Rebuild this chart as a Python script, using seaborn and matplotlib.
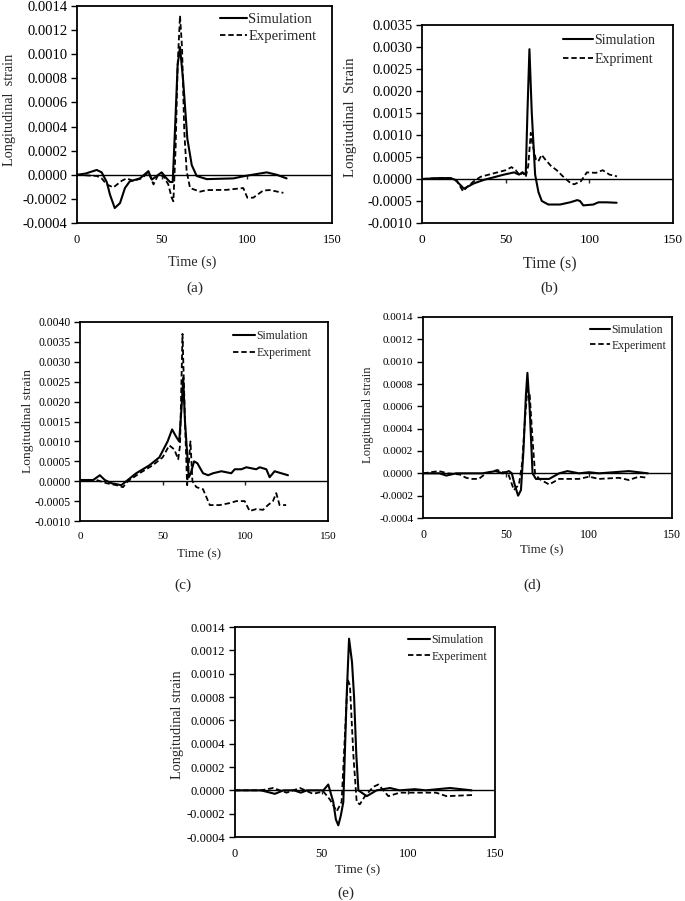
import numpy as np
import pandas as pd
import matplotlib
matplotlib.use("Agg")
import matplotlib.pyplot as plt
from matplotlib.ticker import FuncFormatter, MultipleLocator
import seaborn as sns

# ---------------- data ----------------
# (a)
a_sim_t = [0, 5, 11.6, 14.5, 17.5, 19.4, 22.2, 25.3, 28.2, 31, 37, 42, 44, 49.8, 52.7, 54.7, 56.3, 57.6, 59.2, 60.6, 62.5, 64.9, 67.5, 70.4, 76.3, 92, 98.8, 111.6, 117.5, 123.3]
a_sim_y = [0, 0.00001, 0.00004, 0.00002, -0.00006, -0.000165, -0.000276, -0.000235, -0.00011, -0.000055, -0.00003, 0.00003, -0.00004, 0.00002, -0.00003, -0.00006, -0.00006, 0.00036, 0.00091, 0.00106, 0.00077, 0.0003, 0.00008, -0.00001, -0.000036, -0.00003, -0.00001, 0.00002, 0.0, -0.00003]
a_exp_t = [0, 11.6, 14.5, 17.5, 21.4, 26.3, 29.2, 33, 38, 42, 45, 47.8, 50.8, 53.7, 55.7, 56.7, 58, 59.2, 60.6, 61.8, 63.1, 64.5, 66.5, 69.4, 72.4, 76.3, 88, 97.8, 100.2, 103.7, 109.6, 113.5, 121.4]
a_exp_y = [0, -0.00001, -0.00003, -0.00008, -0.000105, -0.00005, -0.00003, -0.00005, -0.00003, 0.00002, -0.00008, 0.0, -0.00001, -0.00008, -0.00019, -0.00022, 0.00022, 0.00091, 0.00132, 0.00105, 0.00036, 0.00003, -0.00011, -0.000125, -0.00014, -0.000127, -0.000125, -0.00011, -0.00019, -0.00019, -0.00013, -0.000127, -0.00015]

# (b)
b_sim_t = [0, 10, 17, 20, 25, 27, 31, 37, 43, 49, 55, 58, 60, 62, 63, 64.2, 65.6, 67.6, 69.6, 71.6, 75.5, 82.5, 88.5, 92.8, 94.4, 96.4, 102.4, 105.4, 110.3, 116.3]
b_sim_y = [0, 0.00002, 0.00002, -0.00002, -0.00022, -0.00018, -0.0001, -0.00002, 0.00004, 0.0001, 0.00015, 0.0001, 0.00015, 0.0001, 0.0015, 0.00295, 0.0015, 0.0001, -0.0003, -0.0005, -0.00058, -0.00058, -0.00053, -0.00048, -0.0005, -0.0006, -0.00058, -0.00053, -0.00053, -0.00054]
b_exp_t = [0, 10, 17, 21, 24.5, 27, 31, 35, 40, 45, 50, 53.5, 56, 58.5, 60, 62, 63.5, 65, 66, 68, 69.5, 71.5, 73.5, 77, 80.5, 85, 89, 91, 95, 98.5, 104, 108, 112, 116.5]
b_exp_y = [0, 0.00002, 0.00002, -0.00005, -0.00028, -0.00018, -0.00005, 0.00005, 0.0001, 0.00015, 0.0002, 0.00027, 0.0002, 0.00008, 0.00015, 0.00005, 0.0003, 0.00105, 0.0008, 0.00045, 0.0004, 0.00055, 0.00045, 0.0003, 0.0002, 0.00003, -0.0001, -0.00012, -0.00005, 0.00015, 0.00014, 0.0002, 0.0001, 0.00006]

# (c)
c_sim_t = [0, 8, 12, 15, 19, 25, 28, 34, 42, 48, 53, 55.7, 58.4, 60, 61.5, 62.4, 63.5, 65.8, 67, 69, 71, 74.4, 77.5, 80.5, 85.5, 91.5, 93.6, 97.6, 100.6, 106.6, 108.7, 112.7, 114.7, 117.7, 121.7, 125.8]
c_sim_y = [0.00003, 0.00003, 0.00015, 0.00003, -0.00005, -0.0001, 0.0, 0.0002, 0.0004, 0.0006, 0.001, 0.0013, 0.0011, 0.001, 0.0019, 0.0026, 0.0015, 0.0001, 0.0002, 0.0005, 0.00045, 0.0002, 0.00015, 0.0002, 0.00025, 0.0002, 0.0003, 0.0003, 0.00035, 0.0003, 0.00035, 0.0003, 0.0001, 0.00025, 0.0002, 0.00015]
c_exp_t = [0, 10, 16, 22, 26, 29, 36, 44, 50, 54, 57, 59.4, 60.5, 62, 63.5, 64.8, 66.8, 68, 70.4, 74.4, 78.5, 84.5, 90.5, 94.6, 99.6, 102.6, 106.6, 110.7, 113.7, 116.7, 118.7, 120.7, 124.7]
c_exp_y = [0.00002, 0.00003, -0.00005, -0.0001, -0.00015, 0.0, 0.0002, 0.0004, 0.0006, 0.0009, 0.0008, 0.00055, 0.0009, 0.0037, 0.0015, -0.0001, 0.001, 0.0, -0.00015, -0.0002, -0.0006, -0.0006, -0.00055, -0.0005, -0.0005, -0.00075, -0.0007, -0.00072, -0.0006, -0.0005, -0.0003, -0.0006, -0.0006]

# (d)
d_sim_t = [0, 10, 14, 20, 25, 35.7, 43.8, 48, 51.8, 53.5, 55.2, 57.3, 59, 60.5, 62, 62.9, 64.2, 66, 68, 72, 76, 82, 87, 94, 100, 106, 115, 124, 135.5]
d_sim_y = [0, 0, -0.00002, 0, 0, 0, 0.00002, 0, 0.00002, 0, -0.0001, -0.0002, -0.00015, 0.0002, 0.0007, 0.0009, 0.0006, 0.0, -0.00005, -0.00005, -0.00005, 0, 0.00002, 0, 0.00001, 0, 0.00001, 0.00002, 0]
d_exp_t = [0, 9.5, 15, 22, 26, 29.6, 33.6, 38, 44.8, 48, 51, 54.8, 57.8, 59.8, 61.5, 62.9, 64.3, 66, 67.5, 70, 76, 82, 94, 100, 106, 118, 124, 130, 135.5]
d_exp_y = [0, 0.00002, 0, -0.00001, -0.00004, -0.00005, -0.00005, 0, 0.00003, 0.00001, 0.00001, -0.00015, -0.0001, 0.0001, 0.0005, 0.00075, 0.0007, 0.0003, 0, -0.00005, -0.0001, -0.00005, -0.00005, -0.00003, -0.00005, -0.00004, -0.00006, -0.00003, -0.00004]

# (e)
e_sim_t = [0, 15, 23, 28, 34, 38, 41.5, 51, 53.8, 56.7, 58.2, 59.6, 61, 62.5, 64.4, 65.8, 67.5, 68.7, 70, 71.2, 76, 81.7, 89.4, 95, 103.8, 110, 124, 136.5]
e_sim_y = [0, 0, -0.00003, 0, 0, -0.00002, 0, 0, 0.00005, -0.0001, -0.00025, -0.0003, -0.00022, -0.0001, 0.0008, 0.0013, 0.0011, 0.0008, 0.0003, 0, -0.00005, 0, 0.00002, 0, 0.00001, 0, 0.00002, 0]
e_exp_t = [0, 15, 22, 29.8, 37.5, 45, 51, 54.8, 58.7, 61.5, 63.5, 65, 66.3, 68.3, 70.2, 72, 75, 79.8, 82.7, 85.6, 88.5, 95, 110, 116, 122, 137.5]
e_exp_y = [0, 0, 0.00002, -0.00002, 0.00002, -0.00003, -0.00001, -0.00008, -0.00018, -0.0001, 0.0005, 0.00095, 0.0009, 0.0003, -0.0001, -0.00012, -0.00005, 0.00003, 0.00005, 0, -0.00005, -0.00002, -0.00002, -0.00002, -0.00005, -0.00004]

x_ticks = [0, 50, 100, 150]
panel_letters = ["(a)", "(b)", "(c)", "(d)", "(e)"]
ylabels = ["Longitudinal  strain", "Longitudinal  Strain", "Longitudinal strain", "Longitudinal strain", "Longitudinal strain"]
sim_labels = ["Simulation"] * 5
exp_labels = ["Experiment", "Expriment", "Experiment", "Experiment", "Experiment"]
y_ranges = [(-0.0004, 0.0014, 0.0002), (-0.0010, 0.0035, 0.0005), (-0.0010, 0.0040, 0.0005),
            (-0.0004, 0.0014, 0.0002), (-0.0004, 0.0014, 0.0002)]

series = [
    (a_sim_t, a_sim_y, a_exp_t, a_exp_y),
    (b_sim_t, b_sim_y, b_exp_t, b_exp_y),
    (c_sim_t, c_sim_y, c_exp_t, c_exp_y),
    (d_sim_t, d_sim_y, d_exp_t, d_exp_y),
    (e_sim_t, e_sim_y, e_exp_t, e_exp_y),
]

# ---------------- style / layout ----------------
sns.set_style("ticks")
plt.rcParams["font.family"] = ["Liberation Serif", "DejaVu Serif"]
plt.rcParams["axes.linewidth"] = 1.3

W, H = 685, 901
fig = plt.figure(figsize=(W / 100, H / 100), dpi=100)

# pixel boxes: left, right, top, bottom
boxes = [(77, 332, 6, 223), (422, 673, 25, 223), (80, 328, 322, 521), (423, 672, 317, 518), (235, 495, 627, 837)]
# style per panel
cfg = [
    dict(yfs=10.5, xfs=9, xlfs=10.3, ylfs=10.3, cfs=11, lfs=10.5, xl=(192, 262), cap=(195, 288), yl=(10, 110),
         leg=(220, 12.5), hl=1.85, ls=0.28),
    dict(yfs=10.5, xfs=9.6, xlfs=11.3, ylfs=10.7, cfs=11, lfs=10, xl=(550, 264), cap=(549, 288), yl=(350, 117),
         leg=(563, 34), hl=2.15, ls=0.4),
    dict(yfs=8.4, xfs=8, xlfs=9.4, ylfs=9.7, cfs=11, lfs=8.5, xl=(199, 554), cap=(183, 585), yl=(28, 421),
         leg=(233, 330), hl=1.86, ls=0.45),
    dict(yfs=8, xfs=8.6, xlfs=9.3, ylfs=9.1, cfs=11, lfs=8.5, xl=(542, 550), cap=(532, 585), yl=(368, 415),
         leg=(590, 324), hl=1.7, ls=0.3),
    dict(yfs=9, xfs=8.8, xlfs=9.6, ylfs=10.3, cfs=11, lfs=8.6, xl=(358, 870), cap=(346, 893), yl=(178, 725),
         leg=(408, 634), hl=1.86, ls=0.38),
]

def fx(px):
    return px / W

def fy(py):
    return 1 - py / H

fmt = FuncFormatter(lambda v, p: "0.0000" if abs(v) < 1e-9 else f"{v:.4f}")

for i, (box, c, (st, sy, et, ey), (ymin, ymax, ystep)) in enumerate(zip(boxes, cfg, series, y_ranges)):
    l, r, t, b = box
    ax = fig.add_axes([fx(l), fy(b), (r - l) / W, (b - t) / H])
    df_sim = pd.DataFrame({"t": st, "y": sy})
    df_exp = pd.DataFrame({"t": et, "y": ey})
    ax.axhline(0, color="black", lw=1.0, zorder=1)
    sns.lineplot(data=df_sim, x="t", y="y", ax=ax, color="black", lw=1.5, sort=False,
                 estimator=None, label=sim_labels[i], zorder=3)
    sns.lineplot(data=df_exp, x="t", y="y", ax=ax, color="black", lw=1.3, sort=False,
                 estimator=None, label=exp_labels[i], zorder=2, dashes=False)
    ax.lines[-1].set_dashes((3.0, 1.6))
    ax.set_xlim(0, 150)
    ax.set_ylim(ymin, ymax)
    ax.set_xticks(x_ticks)
    ax.yaxis.set_major_locator(MultipleLocator(ystep))
    ax.yaxis.set_major_formatter(fmt)
    ax.set_xlabel("")
    ax.set_ylabel("")
    for s in ax.spines.values():
        s.set_visible(True)
        s.set_color("black")
        s.set_linewidth(1.3)
    ax.tick_params(axis="y", direction="out", length=4, width=1.0, labelsize=c["yfs"], pad=3, colors="black")
    ax.tick_params(axis="x", length=0, labelsize=c["xfs"], pad=8, colors="black")
    # ticks on the zero line (Excel axis crossing at 0)
    zero_frac = (0 - ymin) / (ymax - ymin)
    sec = ax.secondary_xaxis(zero_frac)
    sec.set_xticks(x_ticks[1:-1])
    sec.tick_params(axis="x", direction="out", length=3, width=1.0, bottom=True, top=False,
                    labelbottom=False, labeltop=False)
    for s in sec.spines.values():
        s.set_visible(False)

    # legend
    lx, ly = c["leg"]
    ax.legend(loc="upper left", bbox_to_anchor=((lx - l) / (r - l), (b - ly) / (b - t)),
              frameon=False, fontsize=c["lfs"], handlelength=c["hl"], handletextpad=0.1,
              labelspacing=c["ls"], borderpad=0, borderaxespad=0)

    fig.text(fx(c["xl"][0]), fy(c["xl"][1]), "Time (s)", ha="center", va="center", fontsize=c["xlfs"])
    fig.text(fx(c["cap"][0]), fy(c["cap"][1]), panel_letters[i], ha="center", va="center", fontsize=c["cfs"])
    fig.text(fx(c["yl"][0]), fy(c["yl"][1]), ylabels[i], ha="center", va="center", rotation=90,
             fontsize=c["ylfs"])

fig.savefig("out.png", dpi=100)
